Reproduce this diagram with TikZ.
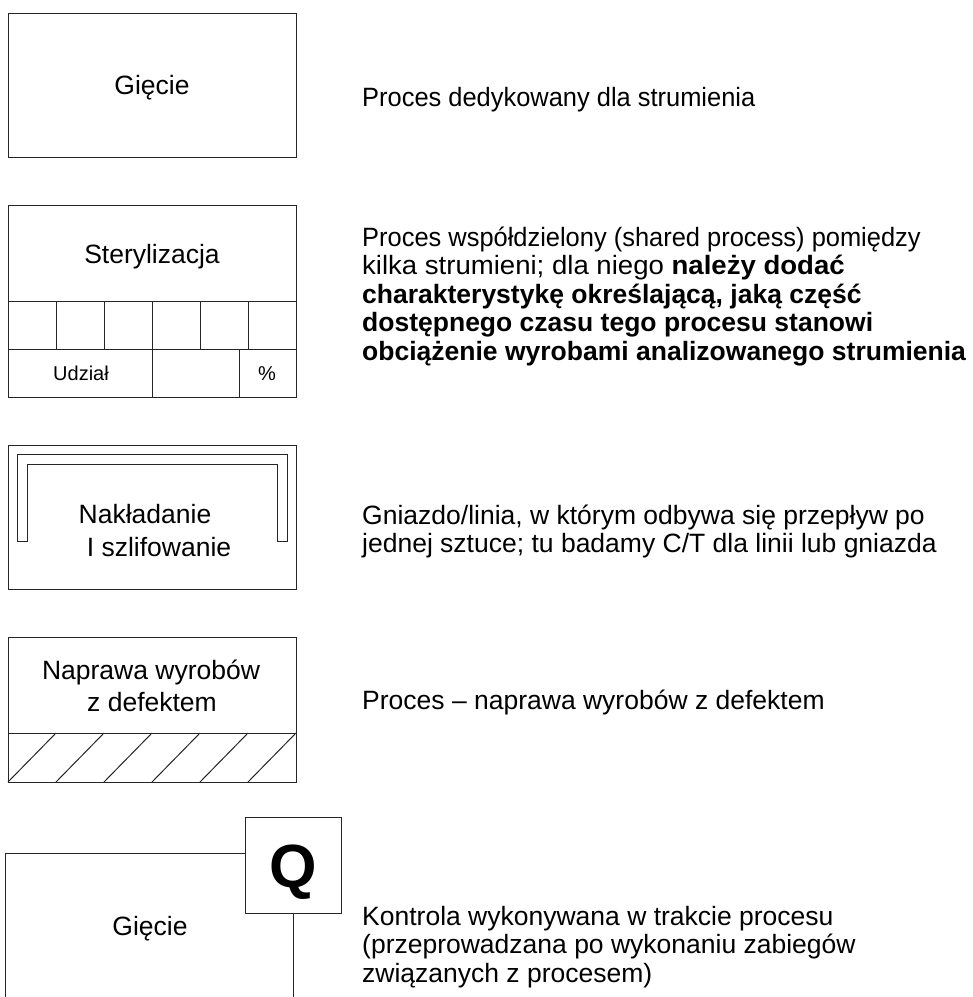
\documentclass[tikz,border=0pt]{standalone}
\usepackage{fontspec}
\usepackage{graphicx}
\setmainfont{Liberation Sans}
\newcommand{\hsc}[2]{\scalebox{#1}[1]{#2}}
\begin{document}
\begin{tikzpicture}[x=1pt,y=-1pt,
  box/.style={draw=black!85, line width=1pt},
  lbl/.style={inner sep=0pt, anchor=base, font=\fontsize{26.5}{30}\selectfont},
  small/.style={inner sep=0pt, anchor=base, font=\fontsize{20}{23}\selectfont},
  desc/.style={inner sep=0pt, anchor=base west, font=\fontsize{26.5}{30}\selectfont}]
\useasboundingbox (0,0) rectangle (973,997);
% Box 1
\draw[box] (8,13) rectangle (296,157);
\node[lbl] (t1) at (152,94) {Gięcie};
\node[desc] (d1) at (362,106) {\hsc{0.96}{Proces dedykowany dla strumienia}};
% Box 2
\draw[box] (8,205) rectangle (296,397);
\draw[box] (8,301) -- (296,301);
\draw[box] (8,349) -- (296,349);
\foreach \x in {56,104,152,200,248} \draw[box] (\x,301) -- (\x,349);
\foreach \x in {152,239} \draw[box] (\x,349) -- (\x,397);
\node[lbl] (t2) at (152,263) {Sterylizacja};
\node[small] (u2) at (81,380) {Udział};
\node[small] (p2) at (267,380) {\%};
\node[desc] (d2a) at (362,246) {\hsc{0.96}{Proces współdzielony (shared process) pomiędzy}};
\node[desc] (d2b) at (362,274.5) {\hsc{1.04}{kilka strumieni; dla niego \textbf{należy dodać}}};
\node[desc] (d2c) at (362,303) {\textbf{charakterystykę określającą, jaką część}};
\node[desc] (d2d) at (362,331.5) {\textbf{dostępnego czasu tego procesu stanowi}};
\node[desc] (d2e) at (362,360) {\textbf{obciążenie wyrobami analizowanego strumienia}};
% Box 3
\draw[box] (8,445) rectangle (296,589);
\draw[box] (17,541) -- (17,454) -- (287,454) -- (287,541) -- (277,541) -- (277,464) -- (27,464) -- (27,541) -- cycle;
\node[lbl] (t3a) at (145,523) {Nakładanie};
\node[lbl] (t3b) at (159,556) {I szlifowanie};
\node[desc] (d3a) at (362,524) {Gniazdo/linia, w którym odbywa się przepływ po};
\node[desc] (d3b) at (362,552.5) {jednej sztuce; tu badamy C/T dla linii lub gniazda};
% Box 4
\draw[box] (8,637) rectangle (296,782);
\draw[box] (8,733) -- (296,733);
\foreach \k in {0,...,5} \draw[box] ({8+48*\k},782) -- ({56+48*\k},733);
\node[lbl] (t4a) at (151,679) {Naprawa wyrobów};
\node[lbl] (t4b) at (152,711) {z defektem};
\node[desc] (d4) at (362,709) {Proces – naprawa wyrobów z defektem};
% Box 5
\draw[box] (5,1010) -- (5,853) -- (245,853);
\draw[box] (245,817) rectangle (341,913);
\draw[box] (293,913) -- (293,1010);
\node[inner sep=0pt, anchor=base, font=\fontsize{61}{61}\selectfont\bfseries] (q) at (293,887) {Q};
\node[lbl] (t5) at (150,935) {Gięcie};
\node[desc] (d5a) at (362,925) {Kontrola wykonywana w trakcie procesu};
\node[desc] (d5b) at (362,953.5) {(przeprowadzana po wykonaniu zabiegów};
\node[desc] (d5c) at (362,982) {związanych z procesem)};
\end{tikzpicture}
\end{document}
